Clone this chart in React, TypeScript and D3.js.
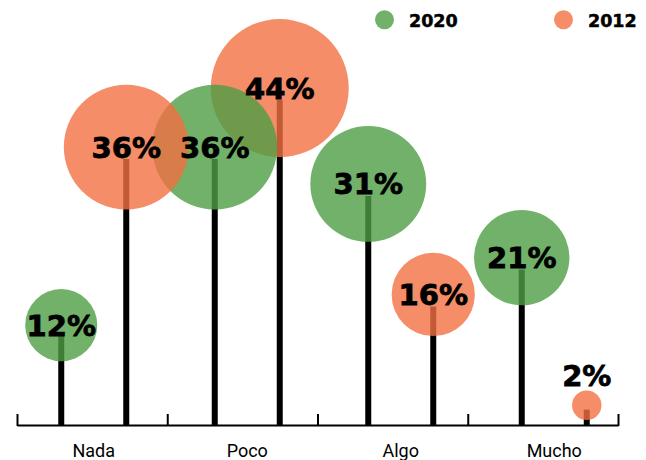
import React from "react";
import * as d3 from "d3";

const categories = ["Nada", "Poco", "Algo", "Mucho"];
const seriesNames = ["2020", "2012"];
const values2020 = [12, 36, 31, 21];
const values2012 = [36, 44, 16, 2];

const W = 646;
const H = 460;
const baseY = 426;
const colorOf: Record<string, string> = { "2020": "#4d9e44", "2012": "#f27042" };
const circleOpacity = 0.8;

type Pt = { cat: string; series: string; value: number; idx: number };

export default function App() {
  const points: Pt[] = [];
  const seriesValues: Record<string, number[]> = { "2020": values2020, "2012": values2012 };
  let k = 0;
  seriesNames.forEach((s) => {
    seriesValues[s].forEach((v, i) => {
      points.push({ cat: categories[i], series: s, value: v, idx: k++ });
    });
  });

  const x = d3.scaleBand<string>().domain(categories).range([17, 631]);
  const xSub = d3.scalePoint<string>().domain(seriesNames).range([-32.5, 32.5]);
  const y = d3.scaleLinear().domain([0, 44]).range([424.4, 100.1]);
  const r = d3.scaleSqrt().domain([0, 44]).range([0, 69]);
  const tickScale = d3.scaleLinear().domain([0, 4]).range([17.5, 618.5]);
  const tickVals = d3.range(0, 5);

  const cx = (p: Pt) => (x(p.cat) as number) + x.bandwidth() / 2 + (xSub(p.series) as number);
  const stemTop = (p: Pt) => y(p.value);
  const cy = (p: Pt) => stemTop(p) - Math.min(12, r(p.value) * 0.3);

  const sorted = points.slice().sort((a, b) => b.value - a.value || a.idx - b.idx);

  const labelFont = "'DejaVu Sans', sans-serif";

  return (
    <svg
      width={W}
      height={H}
      style={{ position: "absolute", left: 0, top: 0, background: "#fff" }}
    >
      {/* axis */}
      <line x1={tickScale(0)} x2={tickScale(4)} y1={baseY - 0.5} y2={baseY - 0.5} stroke="#000" strokeWidth={2} />
      {tickVals.map((t) => (
        <line key={t} x1={tickScale(t)} x2={tickScale(t)} y1={414} y2={baseY} stroke="#000" strokeWidth={2} />
      ))}
      {categories.map((c) => (
        <text
          key={c}
          x={(x(c) as number) + x.bandwidth() / 2}
          y={456.5}
          textAnchor="middle"
          fontFamily="Roboto, sans-serif"
          fontSize={18}
          fill="#000"
        >
          {c}
        </text>
      ))}

      {/* stems */}
      {points.map((p) => (
        <line
          key={"s" + p.idx}
          x1={cx(p)}
          x2={cx(p)}
          y1={baseY}
          y2={stemTop(p)}
          stroke="#000"
          strokeWidth={6}
        />
      ))}

      {/* circles */}
      {sorted.map((p) => (
        <circle
          key={"c" + p.idx}
          cx={cx(p)}
          cy={cy(p)}
          r={r(p.value)}
          fill={colorOf[p.series]}
          fillOpacity={circleOpacity}
        />
      ))}

      {/* labels */}
      {points.map((p) => {
        const rad = r(p.value);
        const ty = rad < 20 ? cy(p) - rad - 4.5 : cy(p) + 10.5;
        return (
          <text
            key={"l" + p.idx}
            x={cx(p)}
            y={ty}
            textAnchor="middle"
            fontFamily={labelFont}
            fontWeight="bold"
            fontSize={29}
            fill="#000"
            stroke="#000"
            strokeWidth={0.8}
          >
            {p.value + "%"}
          </text>
        );
      })}

      {/* legend */}
      {seriesNames.map((s, i) => {
        const lx = i === 0 ? 384.5 : 563.5;
        return (
          <g key={"lg" + s}>
            <circle cx={lx} cy={19.7} r={9.5} fill={colorOf[s]} fillOpacity={circleOpacity} />
            <text
              x={lx + 24.5}
              y={26.5}
              fontFamily={labelFont}
              fontWeight="bold"
              fontSize={17.5}
              fill="#000"
              stroke="#000"
              strokeWidth={0.5}
            >
              {s}
            </text>
          </g>
        );
      })}
    </svg>
  );
}
